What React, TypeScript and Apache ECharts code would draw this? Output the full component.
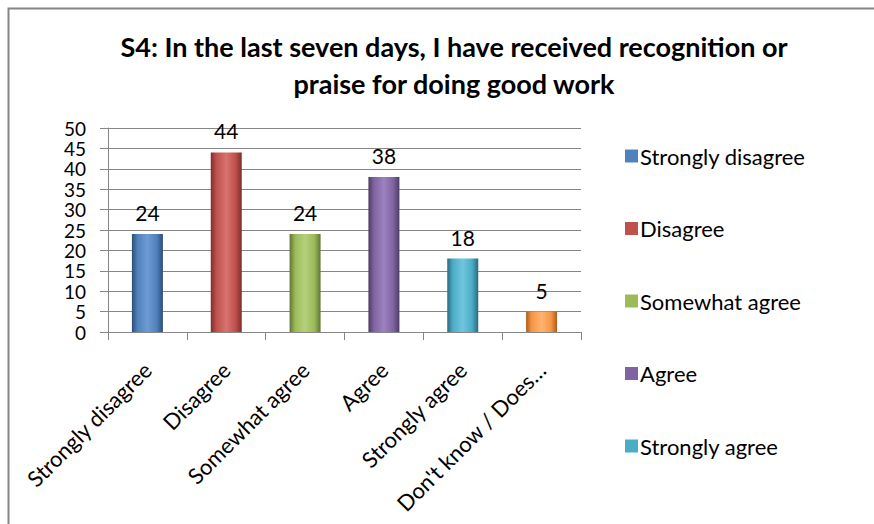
import React, { useEffect, useRef } from "react";
import * as echarts from "echarts";

const titleLines = [
  "S4: In the last seven days, I have received recognition or",
  "praise for doing good work",
];
const categories = [
  "Strongly disagree",
  "Disagree",
  "Somewhat agree",
  "Agree",
  "Strongly agree",
  "Don't know / Does not apply",
];
const values = [24, 44, 24, 38, 18, 5];
const legendNames = [
  "Strongly disagree",
  "Disagree",
  "Somewhat agree",
  "Agree",
  "Strongly agree",
];
const colors = ["#4F81BD", "#C0504D", "#9BBB59", "#8064A2", "#4BACC6", "#F79646"];
const darkColors = ["#2E4D73", "#7A2F2D", "#5F7536", "#4D3B63", "#2B6A7C", "#A85E1F"];
const lightColors = ["#6E9BD3", "#D8726F", "#B5D07A", "#9C82BF", "#6FC6DD", "#FFB46E"];
const yTicks = { min: 0, max: 50, interval: 5 };

const FONT = "Lato";

export default function App() {
  const ref = useRef<HTMLDivElement>(null);
  useEffect(() => {
    document.body.style.margin = "0";
    const chart = echarts.init(ref.current!, null, { renderer: "svg" });
    const series = categories.map((name, i) => ({
      name,
      type: "bar",
      barWidth: 31,
      barGap: "-100%",
      data: values.map((v, j) => (j === i ? v : "-")),
      itemStyle: {
        color: new echarts.graphic.LinearGradient(0, 0, 1, 0, [
          { offset: 0, color: darkColors[i] },
          { offset: 0.18, color: colors[i] },
          { offset: 0.5, color: lightColors[i] },
          { offset: 0.8, color: colors[i] },
          { offset: 1, color: darkColors[i] },
        ]),
      },
      label: {
        show: true,
        position: "top",
        distance: 11,
        color: "#000",
        fontFamily: FONT,
        fontSize: 21,
      },
    }));
    chart.setOption({
      animation: false,
      backgroundColor: "#fff",
      color: colors,
      title: {
        text: titleLines.join("\n"),
        left: 449,
        textAlign: "center",
        top: 23,
        textStyle: {
          fontFamily: FONT,
          fontWeight: "bold",
          fontSize: 27,
          lineHeight: 37,
          color: "#000",
        },
      },
      legend: {
        data: legendNames.map((n, i) => ({ name: n, itemStyle: { color: colors[i] } })),
        orient: "vertical",
        left: 620,
        top: 140,
        itemWidth: 13,
        itemHeight: 13,
        itemGap: 50.5,
        icon: "rect",
        textStyle: {
          fontFamily: FONT,
          fontSize: 22,
          lineHeight: 22,
          color: "#000",
          padding: [0, 0, 0, -3],
        },
      },
      grid: { left: 108, right: 293, top: 128, bottom: 192 },
      xAxis: {
        type: "category",
        data: categories,
        axisLine: { lineStyle: { color: "#868686", width: 1 } },
        axisTick: { show: true, length: 8, lineStyle: { color: "#868686" } },
        axisLabel: {
          rotate: 45,
          margin: 34,
          interval: 0,
          color: "#000",
          fontFamily: FONT,
          fontSize: 22,
          formatter: (v: string) => (v.length > 20 ? v.slice(0, 17) + "…" : v),
        },
      },
      yAxis: {
        type: "value",
        min: yTicks.min,
        max: yTicks.max,
        interval: yTicks.interval,
        axisLine: { show: true, lineStyle: { color: "#868686", width: 1 } },
        axisTick: { show: true, length: 8, lineStyle: { color: "#868686" } },
        splitLine: { lineStyle: { color: "#868686", width: 1 } },
        axisLabel: {
          margin: 22,
          color: "#000",
          fontFamily: FONT,
          fontSize: 19,
          lineHeight: 16,
        },
      },
      graphic: [
        {
          type: "rect",
          shape: { x: 8.5, y: 8.5, width: 900, height: 600 },
          style: { fill: "none", stroke: "#868686", lineWidth: 2 },
          silent: true,
        },
      ],
      series,
    });
    return () => chart.dispose();
  }, []);
  return <div ref={ref} style={{ width: 874, height: 524 }} />;
}
